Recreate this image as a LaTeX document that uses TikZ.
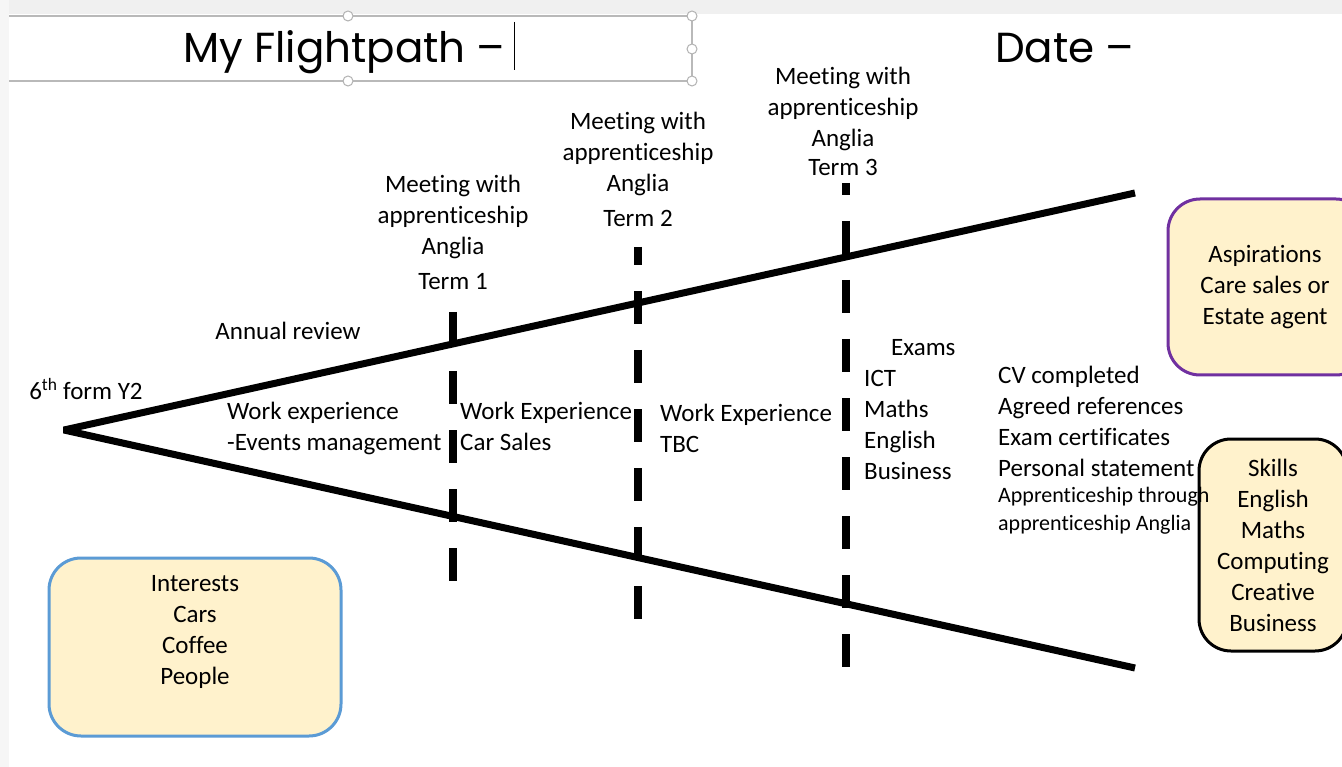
\documentclass[tikz,border=0pt]{standalone}
\usepackage{fontspec}
\setmainfont{Carlito}[Ligatures={TeX,NoCommon}]
\newfontfamily\titlefont{Poppins}
\definecolor{cardfill}{HTML}{FFF2CC}
\definecolor{aspline}{HTML}{7030A0}
\definecolor{intline}{HTML}{5B9BD5}
\begin{document}
\begin{tikzpicture}[x=1pt,y=-1pt,
  txt/.style={font=\fontsize{25}{31}\selectfont, inner sep=0pt, align=center},
  ltxt/.style={txt, align=left, anchor=west},
  small/.style={ltxt, font=\fontsize{22}{28}\selectfont},
  spine/.style={line width=7pt, line join=bevel},
  term/.style={line width=8pt, dash pattern=on 33pt off 26pt},
  card/.style={draw, rounded corners=32pt, line width=3pt, fill=cardfill, inner sep=0pt},
  handle/.style={draw=gray!60, fill=white, line width=1pt},
  heading/.style={anchor=base west, inner sep=0pt, font=\titlefont\fontsize{42}{50}\selectfont},
]
\clip (0,0) rectangle (1342,767);
\fill[white] (0,0) rectangle (1342,767);
\fill[gray!12] (0,0) rectangle (1342,14);
\fill[gray!7] (0,0) rectangle (9,767);

% title box
\draw[gray!55, line width=1.5pt] (9,16) -- (692,16) -- (692,81) -- (9,81);
\foreach \p in {(348,16),(692,16),(692,49),(348,81),(692,81)}
  \path[handle] \p circle [radius=5];
\node[heading] (title) at (183,63) {My Flightpath \textendash};
\draw[line width=1pt] (514,22) -- (514,70);
\node[heading] (date) at (995,63) {Date \textendash};

% the flightpath
\coordinate (apex) at (64,430);
\coordinate (topend) at (1135,193);
\coordinate (botend) at (1135,668);
\draw[spine] (topend) -- (apex) -- (botend);

% terms
\coordinate (t1a) at (453,312);
\coordinate (t1b) at (453,581);
\coordinate (t2a) at (638,247);
\coordinate (t2b) at (638,620);
\coordinate (t3a) at (846,183);
\coordinate (t3b) at (846,667);
\draw[term] (t1a) -- (t1b);
\draw[term, dash phase=15pt] (t2a) -- (t2b);
\draw[term, dash phase=21pt] (t3a) -- (t3b);

% cards
\node[card, draw=aspline, minimum width=200pt, minimum height=176pt] (asp) at (1268,287) {};
\node[txt] at (1265,287) {Aspirations\\Care sales or\\Estate agent};
\node[card, draw=black, minimum width=148pt, minimum height=212pt] (skills) at (1273,545) {};
\node[txt] at (skills) {Skills\\English\\Maths\\Computing\\Creative\\Business};
\node[card, draw=intline, minimum width=292pt, minimum height=178pt] (interests) at (195,647) {};
\node[txt] at ([yshift=15pt]interests.center) {Interests\\Cars\\Coffee\\People};

\node[txt] (term1) at (453,232) {Meeting with\\apprenticeship\\Anglia\\[4pt]Term 1};
\node[txt] (term2) at (638,169) {Meeting with\\apprenticeship\\Anglia\\[4pt]Term 2};
\node[txt] (term3) at (843,121) {Meeting with\\apprenticeship\\Anglia\\[-2pt]Term 3};

\node[txt] (start) at (86,389) {6\textsuperscript{th} form Y2};
\node[txt] (review) at (288,331) {Annual review};
\node[ltxt] (wex1) at (227,428) {Work experience\\-Events management};
\node[ltxt] (wex2) at (460,426) {Work Experience\\Car Sales};
\node[ltxt] (wex3) at (660,428) {Work Experience\\TBC};
\node[ltxt] (exams) at (864,410) {\hspace*{27pt}Exams\\ICT\\Maths\\English\\Business};
\node[ltxt] (cv) at (998,421) {CV completed\\Agreed references\\Exam certificates\\Personal statement};
\node[small] (appr) at (998,511) {Apprenticeship through\\apprenticeship Anglia};

\end{tikzpicture}
\end{document}
